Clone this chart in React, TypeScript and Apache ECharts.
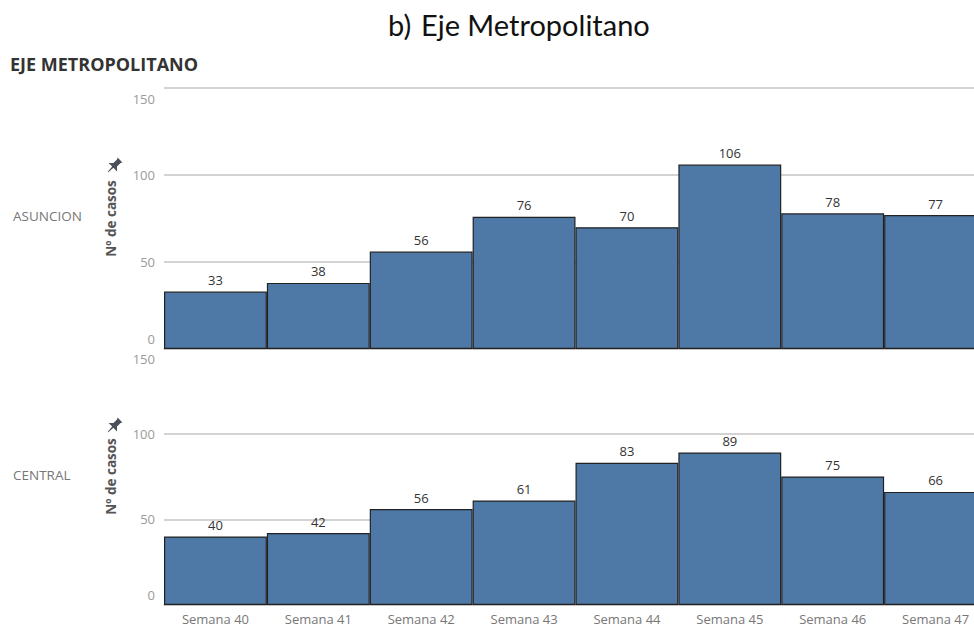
import * as echarts from "echarts";
import { useEffect, useRef } from "react";

const weeks = ["Semana 40", "Semana 41", "Semana 42", "Semana 43", "Semana 44", "Semana 45", "Semana 46", "Semana 47"];
const asuncionCases = [33, 38, 56, 76, 70, 106, 78, 77];
const centralCases = [40, 42, 56, 61, 83, 89, 75, 66];
const regionNames = ["ASUNCION", "CENTRAL"];

// little pushpin shown next to the axis title
const pinPath =
    "M-2 -5 L2 -5 L1.5 -4 L1.5 -1 L3.5 1 L0.5 1 L0.2 5 L-0.2 5 L-0.5 1 L-3.5 1 L-1.5 -1 L-1.5 -4 Z";
echarts.graphic.registerShape("pinshape", echarts.graphic.extendPath(pinPath, {}) as any);

const barColor = "#4e79a7";
const tableauFont = "'Open Sans', sans-serif";

export default function App() {
    const chartRef = useRef<HTMLDivElement>(null);

    useEffect(() => {
        if (!chartRef.current) return;
        document.body.style.margin = "0";

        const chart = echarts.init(chartRef.current, null, { renderer: "svg" });

        // tableau pushes the end labels inside the pane
        const yAxisBase = (nameGap: number) => ({
            type: "value" as const,
            min: 0,
            max: 150,
            interval: 50,
            name: "Nº de casos",
            nameLocation: "middle" as const,
            nameGap,
            nameTextStyle: { color: "#555", fontSize: 13.5, fontWeight: "bold" as const, fontFamily: tableauFont },
            axisLine: { show: false },
            axisTick: { show: false },
            axisLabel: {
                color: "#9a9a9a",
                fontSize: 13,
                fontFamily: tableauFont,
                margin: 9,
                formatter: (v: number) => (v === 150 ? `{t|${v}}` : v === 0 ? `{b|${v}}` : `{m|${v}}`),
                rich: {
                    t: { color: "#9a9a9a", fontSize: 13, fontFamily: tableauFont, padding: [21, 0, 0, 0] },
                    b: { color: "#9a9a9a", fontSize: 13, fontFamily: tableauFont, padding: [0, 0, 21, 0] },
                    m: { color: "#9a9a9a", fontSize: 13, fontFamily: tableauFont }
                }
            },
            splitLine: { lineStyle: { color: "#c4c4c4", width: 1.5 } }
        });

        const makeSeries = (values: number[], idx: number) => ({
            type: "bar" as const,
            xAxisIndex: idx,
            yAxisIndex: idx,
            data: values,
            barCategoryGap: "0%",
            itemStyle: { color: barColor, borderColor: "#222", borderWidth: 1.2 },
            label: {
                show: true,
                position: "top" as const,
                distance: 5,
                color: "#333",
                fontSize: 13,
                fontFamily: tableauFont
            }
        });

        const option: any = {
            animation: false,
            grid: [
                { left: 164, right: 13, top: 88, height: 261 },
                { left: 164, right: 13, top: 348, height: 257 }
            ],
            xAxis: [
                {
                    type: "category",
                    gridIndex: 0,
                    data: weeks,
                    axisLine: { lineStyle: { color: "#bbb", width: 1.5 } },
                    axisTick: { show: false },
                    axisLabel: { show: false }
                },
                {
                    type: "category",
                    gridIndex: 1,
                    data: weeks,
                    axisLine: { lineStyle: { color: "#bbb", width: 1.5 } },
                    axisTick: { show: false },
                    axisLabel: {
                        color: "#777",
                        fontSize: 13,
                        lineHeight: 13,
                        fontFamily: tableauFont,
                        margin: 7
                    }
                }
            ],
            yAxis: [
                { ...yAxisBase(46), gridIndex: 0 },
                { ...yAxisBase(46), gridIndex: 1 }
            ],
            series: [makeSeries(asuncionCases, 0), makeSeries(centralCases, 1)],
            graphic: [
                {
                    type: "text",
                    left: 388,
                    top: 10,
                    style: { text: "b)", fontSize: 29, fontFamily: "Lato, sans-serif", fill: "#111" }
                },
                {
                    type: "text",
                    left: 421,
                    top: 10,
                    style: { text: "Eje Metropolitano", fontSize: 29, fontFamily: "Lato, sans-serif", fill: "#111" }
                },
                {
                    type: "text",
                    left: 10,
                    top: 55,
                    style: {
                        text: "EJE METROPOLITANO",
                        fontSize: 18,
                        fontWeight: "bold",
                        fontFamily: tableauFont,
                        fill: "#333"
                    }
                },
                {
                    type: "text",
                    left: 13,
                    top: 209,
                    style: { text: regionNames[0], fontSize: 13.5, fontFamily: tableauFont, fill: "#777" }
                },
                {
                    type: "text",
                    left: 13,
                    top: 468,
                    style: { text: regionNames[1], fontSize: 13.5, fontFamily: tableauFont, fill: "#777" }
                },
                {
                    type: "pinshape",
                    x: 114,
                    y: 166,
                    rotation: -Math.PI / 4,
                    scaleX: 1.7,
                    scaleY: 1.7,
                    style: { fill: "#4b505a" }
                },
                {
                    type: "pinshape",
                    x: 114,
                    y: 426,
                    rotation: -Math.PI / 4,
                    scaleX: 1.7,
                    scaleY: 1.7,
                    style: { fill: "#4b505a" }
                }
            ]
        };

        chart.setOption(option);

        return () => {
            chart.dispose();
        };
    }, []);

    return (
        <div style={{ position: "fixed", left: 0, top: 0, width: 974, height: 626, overflow: "hidden", background: "#fff" }}>
            <div ref={chartRef} style={{ width: 1000, height: 626 }} />
        </div>
    );
}
